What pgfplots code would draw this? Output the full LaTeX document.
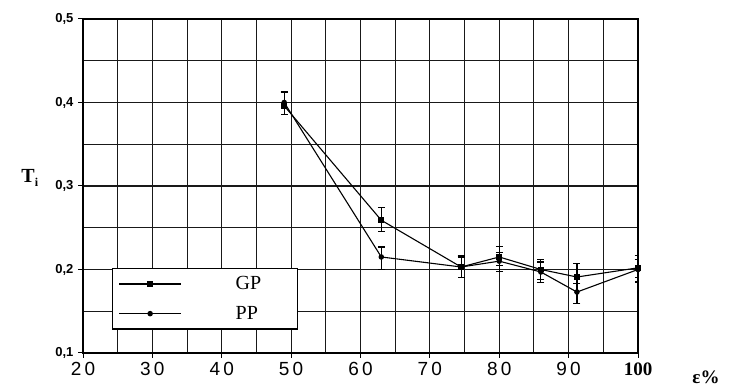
\documentclass[border=0pt]{standalone}
\usepackage{fontspec}
\setmainfont{Liberation Serif}
\setsansfont{Liberation Sans}
\usepackage{pgfplots}
\usepackage{pgfplotstable}
\pgfplotsset{compat=1.18}

% GP and PP series: strain (x), T_i (y), error bar half-widths
\pgfplotstableread{
x     y      ep     em
49    0.396  0.017  0.010
63    0.259  0.015  0.014
74.5  0.203  0.014  0.013
80    0.215  0.013  0.010
86    0.200  0.012  0.012
91.2  0.191  0.016  0.008
100   0.202  0.015  0.012
}\gpdata
\pgfplotstableread{
x     y      ep     em
49    0.400  0.012  0.014
63    0.215  0.012  0.015
74.5  0.203  0.012  0.013
80    0.210  0.010  0.012
86    0.197  0.012  0.013
91.2  0.173  0.010  0.014
100   0.200  0.012  0.015
}\ppdata

\newcommand\legfont{\fontsize{20}{20}\selectfont}

\begin{document}
\begin{tikzpicture}
\path[use as bounding box] (0,0) rectangle (730pt,387pt);
\begin{axis}[
  at={(83pt,34pt)}, anchor=south west,
  scale only axis, width=555pt, height=334pt,
  xmin=20, xmax=100, ymin=0.1, ymax=0.5,
  xtick={20,30,...,100},
  xticklabels={2\,0,3\,0,4\,0,5\,0,6\,0,7\,0,8\,0,9\,0,{\rmfamily\bfseries 100}},
  ytick={0.1,0.2,0.3,0.4,0.5},
  yticklabel={\pgfmathprintnumber[fixed,precision=1,fixed zerofill,use comma,assume math mode=true]{\tick}},
  minor x tick num=1, minor y tick num=1,
  grid=both,
  major grid style={black!90, line width=1.1pt},
  minor grid style={black!90, line width=1.1pt},
  axis line style={black, line width=1.4pt},
  tick align=outside, major tick length=5pt, minor tick length=0pt,
  tick style={black, line width=1pt},
  xtick pos=bottom, ytick pos=left,
  xticklabel style={font=\sffamily\fontsize{19}{19}\selectfont, yshift=-1pt},
  yticklabel style={font=\sffamily\bfseries\fontsize{13}{13}\selectfont, xshift=-1pt},
  legend style={at={(axis cs:24.18,0.2018)}, anchor=north west, draw=black,
    line width=1.2pt, fill=white, inner xsep=6pt, inner ysep=6pt,
    column sep=52pt, row sep=11pt},
  legend cell align=left,
  legend image code/.code={%
    \draw[#1, mark repeat=2, mark phase=2] plot coordinates {(0pt,0pt) (31pt,0pt) (62pt,0pt)};},
]
\addplot[black, line width=1.1pt, mark=square*, mark size=2.4pt,
  error bars/.cd, y dir=both, y explicit,
  error bar style={line width=1.1pt},
  error mark options={rotate=90, mark size=3.5pt, line width=1.1pt}]
  table[x=x, y=y, y error plus=ep, y error minus=em] {\gpdata};
\addlegendentry{\legfont\makebox[54pt][l]{GP}}
\addplot[black, line width=1.1pt, mark=*, mark size=2.2pt,
  error bars/.cd, y dir=both, y explicit,
  error bar style={line width=1.1pt},
  error mark options={rotate=90, mark size=3.5pt, line width=1.1pt}]
  table[x=x, y=y, y error plus=ep, y error minus=em] {\ppdata};
\addlegendentry{\legfont\makebox[54pt][l]{PP}}
\end{axis}
\node[font=\bfseries\fontsize{20}{20}\selectfont] at (30pt,209pt) {T\textsubscript{\fontsize{12}{12}\selectfont i}};
\node[font=\bfseries\fontsize{19}{19}\selectfont] at (706pt,10pt) {ε\%};
\end{tikzpicture}
\end{document}
